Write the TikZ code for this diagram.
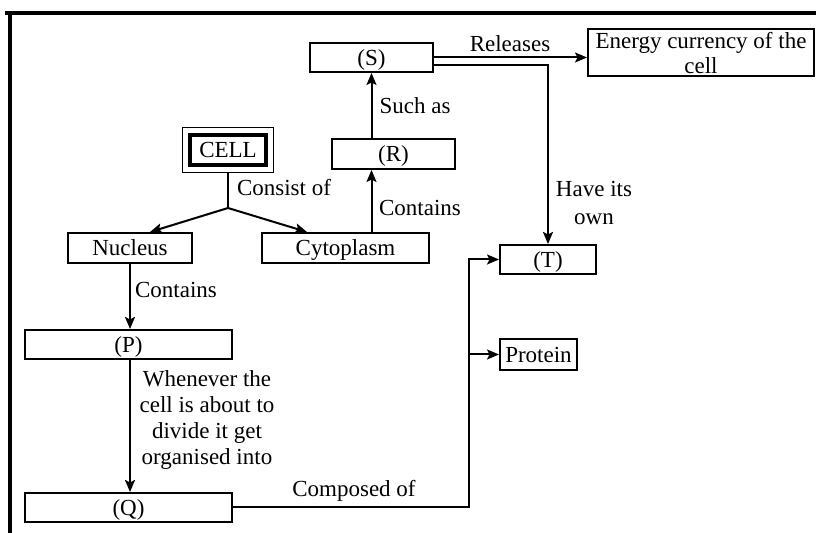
\documentclass[tikz,border=0pt]{standalone}
\usepackage{fontspec}
\setmainfont{Liberation Serif}
\usetikzlibrary{arrows.meta,calc}
\begin{document}
\begin{tikzpicture}[x=0.5pt,y=-0.5pt,
  font=\fontsize{11.5}{13}\selectfont,
  box/.style={draw,line width=1pt,inner sep=1pt,align=center,text depth=0pt},
  conn/.style={line width=1pt},
  arr/.style={conn,-{Stealth[length=6pt,width=5pt,inset=1.2pt]}},
  lbl/.style={inner sep=0pt,align=center}]
\useasboundingbox (0,0) rectangle (816,533);
% frame
\draw[line width=2pt] (5,13) -- (816,13);
\draw[line width=2pt] (9.5,12) -- (9.5,533);
% boxes
\node[box,minimum width=113pt,minimum height=23.5pt,inner sep=0pt,font=\fontsize{11.5}{12.5}\selectfont] (E) at (701,52.5) {Energy currency of the\\cell};
\node[box,minimum width=61.5pt,minimum height=14.5pt] (S) at (371.5,57.5) {(S)};
\node[box,minimum width=61.5pt,minimum height=15pt] (R) at (393.5,154) {(R)};
\node[draw,line width=1.6pt,minimum width=38pt,minimum height=15pt,inner sep=1pt,text depth=0pt] (CELL) at (228,150) {CELL};
\draw[line width=0.6pt] ($(CELL.north west)+(-6,-6)$) rectangle ($(CELL.south east)+(6,6)$);
\node[box,minimum width=62pt,minimum height=15pt] (N) at (130,248) {Nucleus};
\node[box,minimum width=83.5pt,minimum height=15pt] (C) at (345.5,248) {Cytoplasm};
\node[box,minimum width=103.5pt,minimum height=14.5pt] (P) at (128.5,344.5) {(P)};
\node[box,minimum width=103.5pt,minimum height=14.5pt] (Q) at (128.5,507.5) {(Q)};
\node[box,minimum width=48pt,minimum height=14.5pt] (T) at (548,259.5) {(T)};
\node[box,minimum width=38.5pt,minimum height=15.5pt,inner sep=0.5pt] (Pr) at (538.5,354.5) {Protein};
% junction and bus
\coordinate (J) at (228,208);
\coordinate (bus) at (469,0);
% connectors
\draw[conn] ($(CELL.south)+(0,6)$) -- (J);
\draw[arr] (J) -- ([xshift=10pt]N.north);
\draw[arr] (J) -- ([xshift=-19.25pt]C.north);
\draw[arr] (C.north -| S.south) -- (R.south -| S.south);
\draw[arr] (R.north -| S.south) -- (S.south);
\draw[arr] (S.east) -- (S.east -| E.west);
\draw[arr] ([yshift=-3.75pt]S.east) -| (T.north);
\draw[arr] (N.south) -- (N.south |- P.north);
\draw[arr] (N.south |- P.south) -- (N.south |- Q.north);
\draw[arr] (Q.east) -- (Q.east -| bus) -- (T.west -| bus) -- (T.west);
\draw[arr] (Pr.west -| bus) -- (Pr.west);
% labels
\node[lbl] (l1) at (510,44) {Releases};
\node[lbl] (l2) at (415,106) {Such as};
\node[lbl] (l3) at (420,208) {Contains};
\node[lbl] (l4) at (284,188) {Consist of};
\node[lbl] (l5) at (176,290) {Contains};
\node[lbl,font=\fontsize{11.5}{13}\selectfont] (l6) at (207,420) {Whenever the\\cell is about to\\divide it get\\organised into};
\node[lbl,font=\fontsize{11.5}{14}\selectfont] (l7) at (594,203) {Have its\\own};
\node[lbl] (l8) at (354,491) {Composed of};
\end{tikzpicture}
\end{document}
